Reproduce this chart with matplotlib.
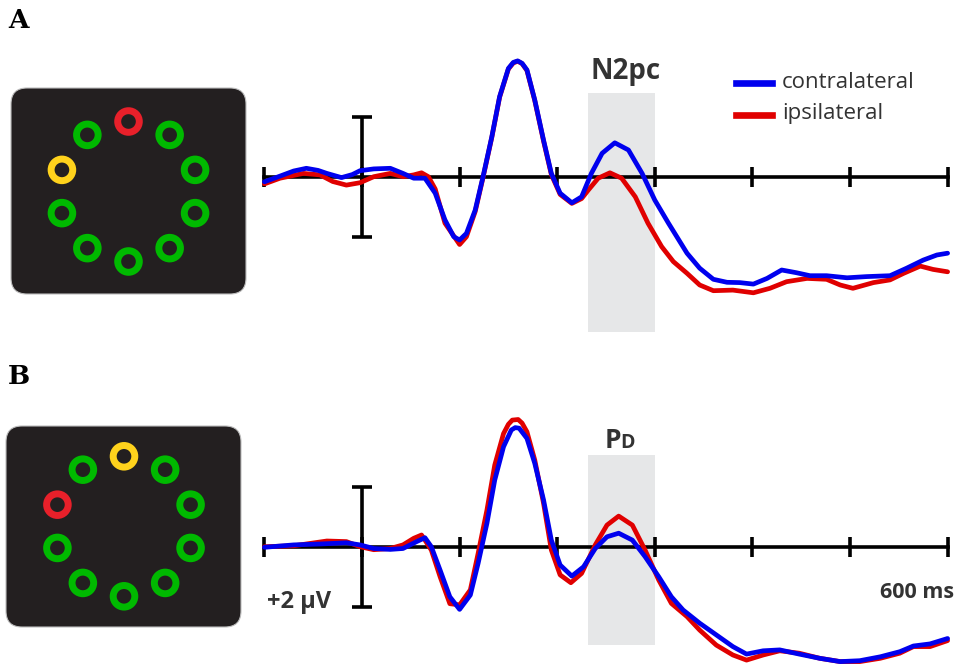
import numpy as np
import matplotlib
matplotlib.use("Agg")
import matplotlib.pyplot as plt
from matplotlib.patches import FancyBboxPatch, Circle, Rectangle

# ---- ERP data (time in ms, amplitude in microvolts, positive plotted down) ----
# Panel A (N2pc)
t_a_contra = [-100, -84, -70, -57, -45, -36, -21, -10, -2, 12, 29, 42, 53, 64.5, 75, 85, 94, 100,
              107, 116, 124, 133, 141, 150, 155, 159.5, 164, 169, 177, 186, 194, 203, 215, 225, 235,
              246, 259, 273, 287, 300, 314, 333, 346, 360, 374, 387, 401, 415, 430, 445, 459, 476,
              497, 517, 541, 558, 575, 589, 600]
v_a_contra = [0.16, -0.03, -0.20, -0.29, -0.22, -0.12, 0.02, -0.08, -0.21, -0.27, -0.29, -0.12,
              0.04, 0.04, 0.54, 1.43, 1.99, 2.10, 1.88, 1.10, -0.01, -1.34, -2.68, -3.62, -3.82,
              -3.87, -3.79, -3.57, -2.57, -1.23, -0.12, 0.54, 0.86, 0.66, -0.12, -0.79, -1.14,
              -0.90, -0.12, 0.77, 1.54, 2.54, 3.04, 3.41, 3.51, 3.52, 3.57, 3.38, 3.10, 3.19, 3.29,
              3.29, 3.36, 3.32, 3.29, 3.04, 2.77, 2.60, 2.54]
t_a_ipsi = [-100, -84, -60, -43, -30, -16, -2, 12, 29, 42, 53, 61, 68, 75, 85, 100, 107, 116, 124,
            133, 141, 150, 155, 159.5, 164, 169, 177, 186, 194, 203, 215, 225, 232, 242, 254, 266,
            280, 293, 307, 319, 333, 346, 360, 380, 401, 418, 435, 456, 476, 490, 503, 524, 541,
            555, 572, 585, 600]
v_a_ipsi = [0.23, 0.04, -0.12, -0.07, 0.15, 0.27, 0.19, -0.01, -0.12, -0.01, -0.07, -0.14, -0.01,
            0.40, 1.54, 2.25, 1.99, 1.15, 0.02, -1.32, -2.66, -3.60, -3.80, -3.86, -3.78, -3.55,
            -2.55, -1.20, -0.08, 0.58, 0.88, 0.72, 0.43, 0.04, -0.14, 0.04, 0.66, 1.54, 2.32, 2.82,
            3.21, 3.60, 3.79, 3.77, 3.86, 3.71, 3.49, 3.38, 3.41, 3.60, 3.71, 3.52, 3.43, 3.21,
            2.97, 3.08, 3.16]

# Panel B (Pd)
t_b_contra = [-100, -70, -43, -16, -2, 12, 29, 42, 56, 64.5, 71, 80, 90, 100, 111, 119, 128, 136,
              145, 153, 157, 161, 169, 177, 186, 194, 203, 215, 227, 239, 251, 263, 277, 290, 304,
              317, 329, 346, 363, 380, 394, 411, 428, 448, 469, 490, 510, 531, 551, 565, 582, 600]
v_b_contra = [0.02, -0.06, -0.09, -0.13, -0.06, 0.06, 0.09, 0.06, -0.17, -0.30, 0.00, 0.78, 1.67,
              2.09, 1.61, 0.55, -0.78, -2.22, -3.33, -3.89, -3.97, -3.95, -3.61, -2.78, -1.56,
              -0.22, 0.61, 0.98, 0.67, 0.06, -0.33, -0.45, -0.22, 0.33, 1.00, 1.67, 2.11, 2.55,
              2.94, 3.33, 3.58, 3.47, 3.44, 3.58, 3.72, 3.83, 3.80, 3.67, 3.50, 3.31, 3.24, 3.06]
t_b_ipsi = [-100, -70, -36, -16, -2, 12, 29, 42, 53, 61, 64.5, 71, 80, 90, 100, 111, 119, 128, 136,
            145, 150, 154, 160, 164, 169, 177, 186, 194, 203, 214, 225, 239, 251, 263, 277, 290,
            304, 317, 333, 346, 363, 380, 394, 411, 428, 448, 469, 490, 510, 531, 551, 565, 582, 600]
v_b_ipsi = [0.00, -0.03, -0.19, -0.17, 0.00, 0.10, 0.06, -0.06, -0.28, -0.39, -0.22, 0.11, 1.00,
            1.90, 1.94, 1.44, 0.22, -1.22, -2.72, -3.77, -4.08, -4.22, -4.24, -4.12, -3.83, -2.89,
            -1.45, 0.11, 0.94, 1.20, 0.89, -0.06, -0.72, -1.02, -0.72, 0.11, 1.11, 1.89, 2.33,
            2.78, 3.28, 3.61, 3.78, 3.61, 3.47, 3.55, 3.72, 3.83, 3.83, 3.72, 3.55, 3.33, 3.33,
            3.13]

tick_times = [-100, 0, 100, 200, 300, 400, 500, 600]
window_a = (232, 300)
window_b = (232, 300)

# stimulus displays: colour of each of the 10 rings, clockwise from the top
ring_a = ["red", "green", "green", "green", "green", "green", "green", "green", "yellow", "green"]
ring_b = ["yellow", "green", "green", "green", "green", "green", "green", "green", "red", "green"]

COLS = {"red": "#e8202a", "green": "#00b900", "yellow": "#ffd21c"}
BLUE = "#0000ee"
RED = "#e00000"
TXT = "#333333"

W, H = 958, 666
PX_MS = 0.976     # pixels per ms
PX_UV = 30.0      # pixels per microvolt
X0 = 362          # pixel x of t = 0

fig = plt.figure(figsize=(W / 100, H / 100), dpi=100)

# overlay in pixel coordinates for the stimulus pictures and labels
ov = fig.add_axes([0, 0, 1, 1])
ov.set_xlim(0, W)
ov.set_ylim(H, 0)
ov.axis("off")


def stim(ax, x0, y0, x1, y1, cx, cy, colors):
    box = FancyBboxPatch((x0, y0), x1 - x0, y1 - y0, boxstyle="round,pad=0,rounding_size=16",
                         fc="#231f20", ec="#bdbdbd", lw=0.8)
    ax.add_patch(box)
    for i, c in enumerate(colors):
        ang = np.deg2rad(36 * i)
        ax.add_patch(Circle((cx + 70 * np.sin(ang), cy - 70 * np.cos(ang)), 10.8,
                            fill=False, ec=COLS[c], lw=5.0))


stim(ov, 11, 88, 246, 294, 128.5, 191.5, ring_a)
stim(ov, 6, 426, 241, 627, 124, 526.3, ring_b)

ov.text(8, 21, "A", fontsize=19, fontweight="bold", family="DejaVu Serif", va="center", ha="left")
ov.text(8, 377, "B", fontsize=19, fontweight="bold", family="DejaVu Serif", va="center", ha="left")


def erp_axes(top, bottom, base):
    ax = fig.add_axes([255 / W, 1 - bottom / H, (W - 255) / W, (bottom - top) / H])
    ax.set_xlim((255 - X0) / PX_MS, (W - X0) / PX_MS)
    ax.set_ylim((bottom - base) / PX_UV, (top - base) / PX_UV)
    ax.axis("off")
    return ax


def decorate(ax, win, shade_lo, shade_hi):
    ax.add_patch(Rectangle((win[0], shade_lo), win[1] - win[0], shade_hi - shade_lo,
                           fc="#e6e7e8", ec="none", zorder=0))
    ax.plot([tick_times[0], tick_times[-1]], [0, 0], color="black", lw=2.6, zorder=1)
    ax.vlines(tick_times, -0.33, 0.33, color="black", lw=2.6, zorder=1)
    ax.vlines(0, -2, 2, color="black", lw=2.6, zorder=1)
    ax.hlines([-2, 2], -10.5, 10.5, color="black", lw=2.6, zorder=1)


def curves(ax, t_ip, v_ip, t_co, v_co):
    ax.plot(t_ip, v_ip, color=RED, lw=3.4, zorder=2, solid_capstyle="round",
            solid_joinstyle="round")
    ax.plot(t_co, v_co, color=BLUE, lw=3.4, zorder=3, solid_capstyle="round",
            solid_joinstyle="round")


ax_a = erp_axes(40, 340, 177)
decorate(ax_a, window_a, -2.8, 5.17)
curves(ax_a, t_a_ipsi, v_a_ipsi, t_a_contra, v_a_contra)

ax_b = erp_axes(400, 666, 546.7)
decorate(ax_b, window_b, -3.06, 3.28)
curves(ax_b, t_b_ipsi, v_b_ipsi, t_b_contra, v_b_contra)

# legend drawn by hand to sit where it does in the figure
ov.plot([736, 772], [82.7, 82.7], color=BLUE, lw=4.8)
ov.plot([736, 772], [115, 115], color=RED, lw=4.8)
ov.text(782, 82, "contralateral", fontsize=16, family="Open Sans", color=TXT, va="center")
ov.text(782, 114, "ipsilateral", fontsize=16, family="Open Sans", color=TXT, va="center")

ov.text(626, 72, "N2pc", fontsize=20, fontweight="bold", family="Open Sans", color=TXT,
        ha="center", va="center")
ov.text(605, 440, "P", fontsize=19, fontweight="bold", family="Open Sans", color=TXT,
        ha="left", va="center")
ov.text(620.5, 442.5, "D", fontsize=14, fontweight="bold", family="Open Sans", color=TXT,
        ha="left", va="center")
ov.text(267, 602, "+2 µV", fontsize=17, fontweight="bold", family="Open Sans", color=TXT,
        ha="left", va="center")
ov.text(954, 593, "600 ms", fontsize=15.5, fontweight="bold", family="Open Sans", color=TXT,
        ha="right", va="center")

fig.savefig("out.png", dpi=100)
